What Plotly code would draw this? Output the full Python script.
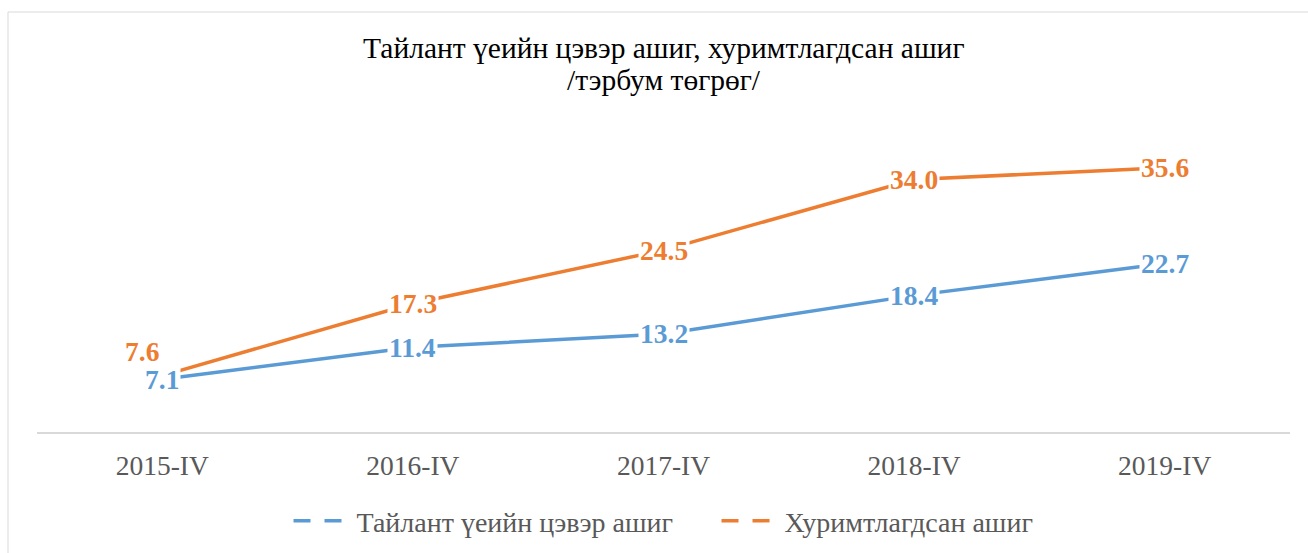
import plotly.graph_objects as go

categories = ["2015-IV", "2016-IV", "2017-IV", "2018-IV", "2019-IV"]
net_profit = [7.1, 11.4, 13.2, 18.4, 22.7]
retained = [7.6, 17.3, 24.5, 34.0, 35.6]
series_names = ["Тайлант үеийн цэвэр ашиг", "Хуримтлагдсан ашиг"]
title_lines = ["Тайлант үеийн цэвэр ашиг, хуримтлагдсан ашиг", "/тэрбум төгрөг/"]

BLUE = "#5B9BD5"
ORANGE = "#ED7D31"
FONT = "Liberation Serif"

W, H = 1308, 553
ML, MR, MT, MB = 37, 18, 135, 121
PW = W - ML - MR
PH = H - MT - MB


def py_to_paper(py):
    return (H - MB - py) / PH


fig = go.Figure()

series = [(series_names[0], net_profit, BLUE), (series_names[1], retained, ORANGE)]

for name, vals, col in series:
    fig.add_trace(go.Scatter(x=categories, y=vals, mode="lines", name=name,
                             line=dict(color=col, width=3.5), showlegend=False,
                             hoverinfo="skip"))
# legend-only entries (dashed symbols like the original legend)
for name, vals, col in series:
    fig.add_trace(go.Scatter(x=[None], y=[None], mode="lines", name=name,
                             line=dict(color=col, width=3.5, dash="17px,14px"),
                             showlegend=True))

annotations = []
# orange first, blue drawn on top
for name, vals, col in [series[1], series[0]]:
    for i, (c, v) in enumerate(zip(categories, vals)):
        xs, ys = 0, 0
        if col == ORANGE and i == 0:
            xs, ys = -20, 24
        annotations.append(dict(x=c, y=v, text=f"{v:.1f}", showarrow=False,
                                xshift=xs, yshift=ys, bgcolor="white", borderpad=1,
                                font=dict(family=FONT, size=27.5, color=col, weight="bold")))

# title, two lines
for line, cy in zip(title_lines, [48, 80]):
    annotations.append(dict(text=line, xref="paper", yref="paper", x=0.5, y=py_to_paper(cy),
                            xanchor="center", yanchor="middle", showarrow=False,
                            font=dict(family=FONT, size=29.5, color="#000000")))

fig.update_layout(
    width=W, height=H,
    margin=dict(l=ML, r=MR, t=MT, b=MB, autoexpand=False),
    paper_bgcolor="white", plot_bgcolor="white",
    xaxis=dict(type="category", range=[-0.5, 4.5], showgrid=False, zeroline=False,
               showline=True, linecolor="#D9D9D9", linewidth=1.5, ticks="",
               ticklabelstandoff=8, automargin=False,
               tickfont=dict(family=FONT, size=27.5, color="#595959")),
    yaxis=dict(range=[0, 40], visible=False, automargin=False),
    legend=dict(orientation="h", x=0.5 + 53 / PW, xanchor="center", y=py_to_paper(521),
                yanchor="middle",
                font=dict(family=FONT, size=28, color="#595959"),
                itemwidth=58, entrywidth=355, entrywidthmode="pixels",
                bgcolor="rgba(0,0,0,0)"),
    annotations=annotations,
    shapes=[dict(type="rect", xref="paper", yref="paper", x0=(8 - ML) / PW, x1=1.05,
                 y0=-0.5, y1=py_to_paper(12), line=dict(color="#D9D9D9", width=1),
                 fillcolor="rgba(0,0,0,0)", layer="below")],
)

fig.write_html("out.html", config={"displayModeBar": False},
               post_script="document.body.style.margin='0';")
